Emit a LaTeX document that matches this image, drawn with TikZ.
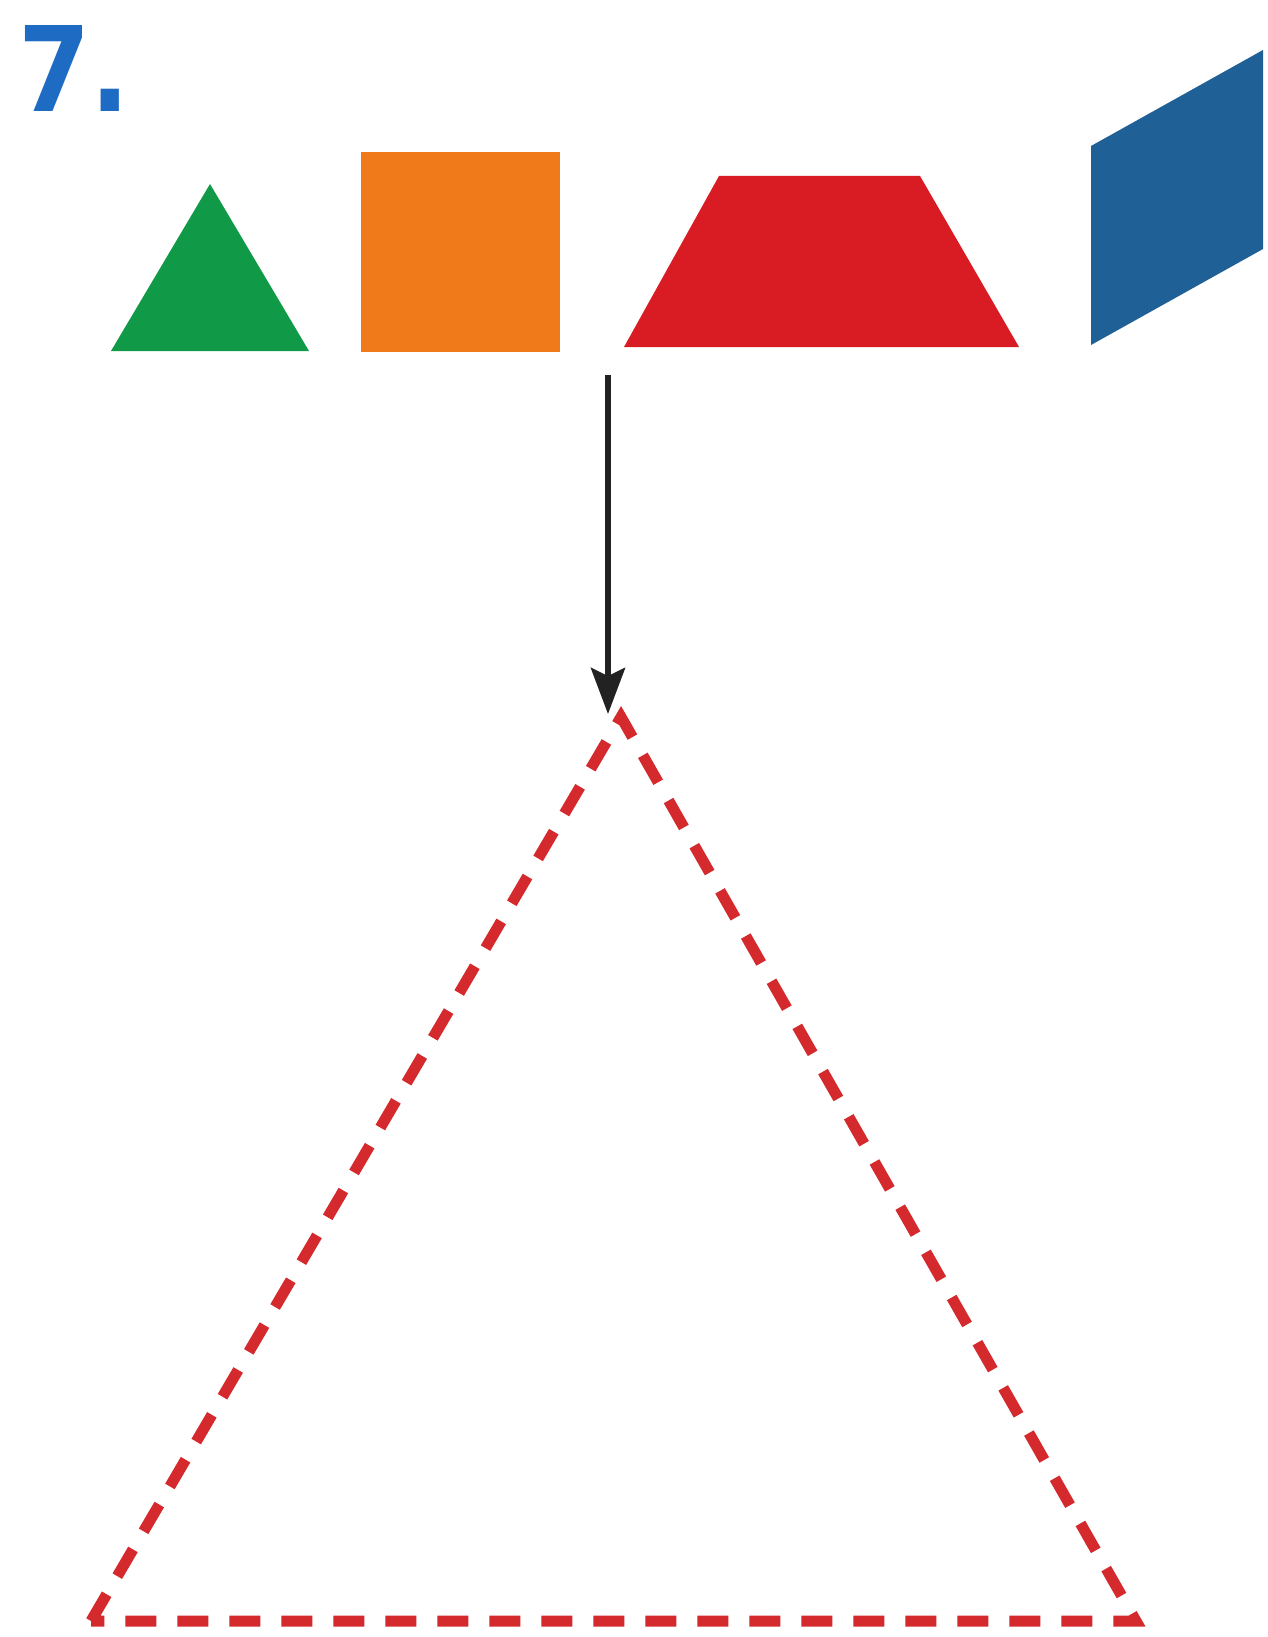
\documentclass[tikz,border=0pt]{standalone}
\usepackage{fontspec}
\setmainfont{DejaVu Sans}
\usetikzlibrary{arrows.meta}
\definecolor{numblue}{HTML}{1E6BC4}
\definecolor{shgreen}{HTML}{109A48}
\definecolor{shorange}{HTML}{F07A1A}
\definecolor{shred}{HTML}{D91C24}
\definecolor{shblue}{HTML}{1F6096}
\definecolor{dashred}{HTML}{D42A2E}
\definecolor{arrgray}{HTML}{222222}
\tikzset{
  guide/.style={draw=dashred, line width=11pt, dash pattern=on 31pt off 21pt, line join=miter},
  pointer/.style={draw=arrgray, line width=6pt, -{Stealth[length=46pt,width=34pt,inset=8pt]}},
}
\begin{document}
\begin{tikzpicture}[x=1pt,y=-1pt]
\useasboundingbox (0,0) rectangle (1267,1637);
\fill[white] (0,0) rectangle (1267,1637);
\node[anchor=base west, inner sep=0pt, text=numblue, font=\bfseries\fontsize{118}{118}\selectfont] (num) at (18,112) {\scalebox{0.88}[1]{7.}};
% shapes
\fill[shgreen] (210,184) -- (309,351) -- (111,351) -- cycle;
\fill[shorange] (361,152) rectangle (560,352);
\fill[shred] (719,176) -- (920,176) -- (1019,347) -- (624,347) -- cycle;
\fill[shblue] (1091,146) -- (1263,50) -- (1263,249) -- (1091,345) -- cycle;
% guide triangle
\coordinate (apex) at (621,717);
\coordinate (bl) at (91,1621);
\coordinate (br) at (1136,1621);
\coordinate (start) at (608,375);
\coordinate (tip) at (608,714);
\draw[guide] (bl) -- (apex) -- (br) -- cycle;
\draw[pointer] (start) -- (tip);
\end{tikzpicture}
\end{document}
